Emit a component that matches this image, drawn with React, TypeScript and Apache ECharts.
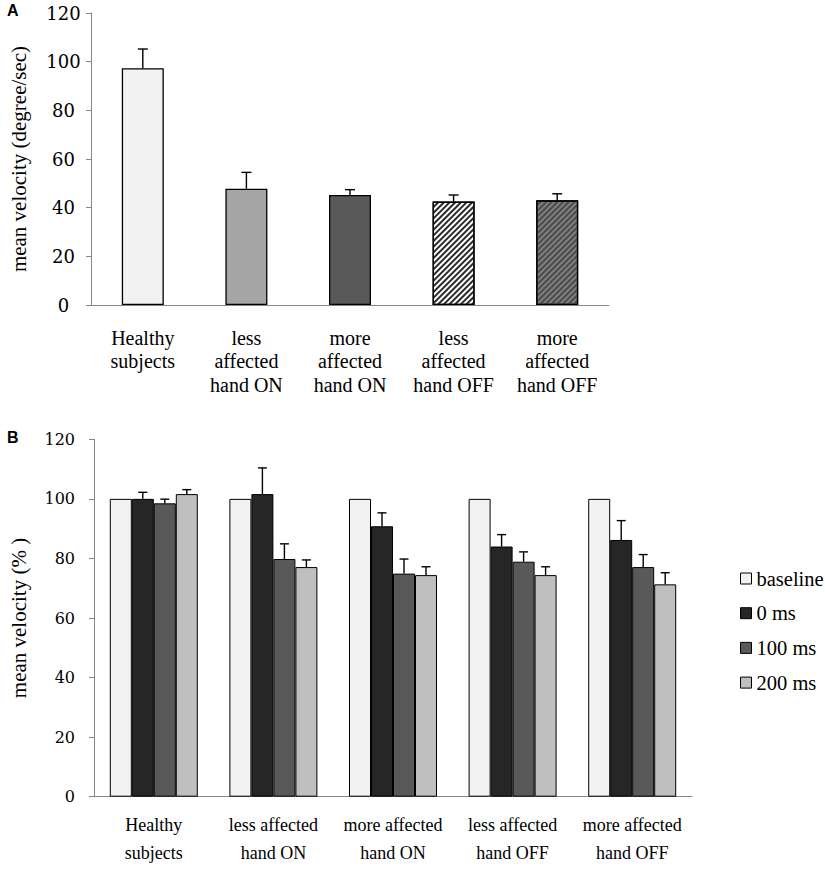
import React, { useEffect, useRef } from "react";
import * as echarts from "echarts";

const catsA = ["Healthy\nsubjects", "less\naffected\nhand ON", "more\naffected\nhand ON", "less\naffected\nhand OFF", "more\naffected\nhand OFF"];
const meanA = [97.3, 47.8, 45.2, 42.5, 43.0];
const errA = [7.9, 6.7, 2.2, 2.7, 2.7];
const colorsA = ["#f2f2f2", "#a6a6a6", "#595959", "#ffffff", "#7f7f7f"];

const catsB = ["Healthy\nsubjects", "less affected\nhand ON", "more affected\nhand ON", "less affected\nhand OFF", "more affected\nhand OFF"];
const seriesNamesB = ["baseline", "0 ms", "100 ms", "200 ms"];
const baselineB = [100, 100, 100, 100, 100];
const ms0B = [100, 101.6, 90.8, 84.0, 86.2];
const ms0Err = [2.2, 8.8, 4.5, 4.0, 6.5];
const ms100B = [98.5, 79.8, 74.9, 78.9, 77.1];
const ms100Err = [1.4, 5.1, 4.9, 3.3, 4.2];
const ms200B = [101.6, 77.1, 74.4, 74.4, 71.3];
const ms200Err = [1.5, 2.4, 2.8, 2.8, 3.9];
const colorsB = ["#f2f2f2", "#262626", "#595959", "#bfbfbf"];

const yTicks = [0, 20, 40, 60, 80, 100, 120];

const SERIF = "'Liberation Serif', 'Times New Roman', serif";
const WIDE_SERIF = "'DejaVu Serif', serif";

export default function App() {
  const ref = useRef<HTMLDivElement>(null);
  useEffect(() => {
    document.body.style.margin = "0";
    const chart = echarts.init(ref.current!, undefined, { renderer: "svg" });
    const axisGray = "#868686";
    const barW_B = 22;

    const errRender = (offset: number, cap: number) => (params: any, api: any) => {
      const x = api.value(0);
      const v = api.value(1);
      const e = api.value(2);
      const p0 = api.coord([x, v]);
      const p1 = api.coord([x, v + e]);
      const cx = p0[0] + offset;
      return {
        type: "group",
        children: [
          { type: "line", shape: { x1: cx, y1: p0[1], x2: cx, y2: p1[1] }, style: { stroke: "#000", lineWidth: 1.4 } },
          { type: "line", shape: { x1: cx - cap / 2, y1: p1[1], x2: cx + cap / 2, y2: p1[1] }, style: { stroke: "#000", lineWidth: 1.4 } },
        ],
      };
    };

    const decalA = (color: string) => ({
      symbol: "rect",
      symbolSize: 1,
      color,
      dashArrayX: [1, 0],
      dashArrayY: [1.5, 1.5],
      rotation: -Math.PI / 4,
    });

    const barsBData = [baselineB, ms0B, ms100B, ms200B];
    const errsB = [null, ms0Err, ms100Err, ms200Err];

    const yAxisCommon = (font: number, align: string, margin: number) => ({
      type: "value",
      min: 0,
      max: 120,
      interval: 20,
      splitLine: { show: false },
      axisLine: { show: true, lineStyle: { color: axisGray, width: 1 } },
      axisTick: { show: true, length: 5, lineStyle: { color: axisGray } },
      axisLabel: {
        color: "#000",
        fontFamily: WIDE_SERIF,
        fontSize: font,
        align,
        margin,
        formatter: (v: number) => (yTicks.includes(v) ? String(v) : ""),
      },
      nameLocation: "middle",
      nameTextStyle: { color: "#000", fontFamily: SERIF, fontSize: 21 },
    });

    const option: any = {
      animation: false,
      backgroundColor: "#fff",
      grid: [
        { left: 90, top: 13, width: 519, height: 292 },
        { left: 90, top: 439.3, width: 602, height: 357.4 },
      ],
      xAxis: [
        {
          type: "category",
          gridIndex: 0,
          data: catsA,
          axisLine: { lineStyle: { color: axisGray } },
          axisTick: { length: 6, lineStyle: { color: axisGray }, interval: 0 },
          axisLabel: { interval: 0, color: "#000", fontFamily: SERIF, fontSize: 20, lineHeight: 23.5, margin: 21 },
        },
        {
          type: "category",
          gridIndex: 1,
          data: catsB,
          axisLine: { lineStyle: { color: axisGray } },
          axisTick: { length: 6, lineStyle: { color: axisGray }, interval: 0 },
          axisLabel: { interval: 0, color: "#000", fontFamily: SERIF, fontSize: 18, lineHeight: 28, margin: 14 },
        },
      ],
      yAxis: [
        { ...yAxisCommon(18, "center", 27.5), gridIndex: 0, name: "mean velocity (degree/sec)", nameGap: 62 },
        { ...yAxisCommon(16, "right", 19), gridIndex: 1, name: "mean velocity (% )", nameGap: 65 },
      ],
      legend: {
        orient: "vertical",
        left: 735,
        top: 563,
        itemWidth: 11,
        itemHeight: 11,
        itemGap: 13.7,
        icon: "rect",
        data: seriesNamesB,
        itemStyle: { borderColor: "#000", borderWidth: 1 },
        textStyle: { color: "#000", fontFamily: SERIF, fontSize: 20.5, lineHeight: 21, padding: [0, 0, 0, 0] },
      },
      graphic: [
        { type: "text", left: 7, top: 2, style: { text: "A", fontFamily: "'Liberation Sans', Arial, sans-serif", fontWeight: "bold", fontSize: 16, fill: "#000" } },
        { type: "text", left: 7, top: 429, style: { text: "B", fontFamily: "'Liberation Sans', Arial, sans-serif", fontWeight: "bold", fontSize: 16, fill: "#000" } },
      ],
      series: [
        {
          type: "bar",
          xAxisIndex: 0,
          yAxisIndex: 0,
          barWidth: 42,
          data: meanA.map((v, i) => ({
            value: v,
            itemStyle: {
              color: colorsA[i],
              borderColor: "#000",
              borderWidth: 1.3,
              ...(i === 3 ? { decal: decalA("#2a2a2a") } : {}),
              ...(i === 4 ? { decal: decalA("#4a4a4a") } : {}),
            },
          })),
        },
        {
          type: "custom",
          xAxisIndex: 0,
          yAxisIndex: 0,
          z: 5,
          renderItem: errRender(0, 10),
          encode: { x: 0, y: 1 },
          data: meanA.map((v, i) => [i, v, errA[i]]),
        },
        ...seriesNamesB.map((name, s) => ({
          type: "bar",
          name,
          xAxisIndex: 1,
          yAxisIndex: 1,
          barWidth: barW_B,
          barGap: "0%",
          itemStyle: { color: colorsB[s], borderColor: "#000", borderWidth: 1 },
          data: barsBData[s],
        })),
        ...seriesNamesB
          .map((name, s) => ({ s }))
          .filter(({ s }) => errsB[s])
          .map(({ s }) => ({
            type: "custom",
            xAxisIndex: 1,
            yAxisIndex: 1,
            z: 5,
            renderItem: errRender((s - 1.5) * barW_B, 9),
            encode: { x: 0, y: 1 },
            data: barsBData[s].map((v, i) => [i, v, (errsB[s] as number[])[i]]),
          })),
      ],
    };
    chart.setOption(option);
    return () => chart.dispose();
  }, []);
  return <div ref={ref} style={{ width: 825, height: 869 }} />;
}
